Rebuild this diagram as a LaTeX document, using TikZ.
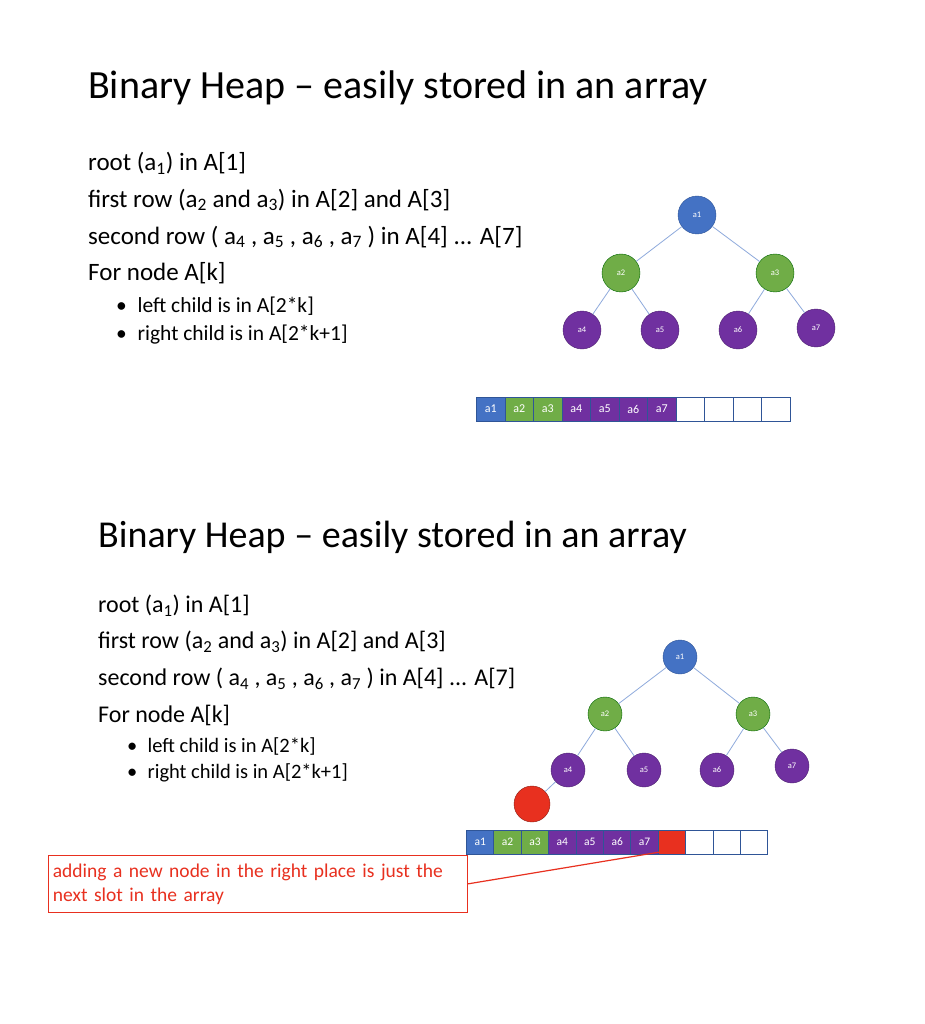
\documentclass[tikz,border=0pt]{standalone}
\usetikzlibrary{arrows.meta}
\usepackage{fontspec}
\setmainfont{Carlito}
\definecolor{hblue}{HTML}{4472C4}
\definecolor{hgreen}{HTML}{70AD47}
\definecolor{hpurple}{HTML}{7030A0}
\definecolor{hred}{HTML}{E8301F}
\definecolor{hedge}{HTML}{8FAADC}
\definecolor{hframe}{HTML}{2F5597}
\begin{document}
\begin{tikzpicture}[x=1pt,y=-1pt,
  hn/.style={circle,minimum size=#1,inner sep=0pt,text=white,font=\fontsize{8.5}{9}\selectfont},
  nb/.style={fill=hblue,draw=hframe},
  ng/.style={fill=hgreen,draw=green!40!black},
  np/.style={fill=hpurple,draw=hpurple!70!black},
  ed/.style={draw=hedge,line width=0.8pt},
  cell/.style={draw=hframe,line width=1pt,minimum width=#1,minimum height=24pt,inner sep=0pt,text=white,anchor=west,font=\fontsize{12}{14}\selectfont},
  tl/.style={anchor=west,inner sep=0pt,font=\fontsize{#1}{#1}\selectfont}]
\useasboundingbox (0,0) rectangle (925,1024);
\fill[white] (0,0) rectangle (925,1024);
% ---------- top panel
\node[tl=40] (t1) at (88,88) {Binary Heap -- easily stored in an array};
\node[tl=25] (l1) at (88,163) {root (a\textsubscript{1}) in A[1]};
\node[tl=25] (l2) at (88,200) {first row (a\textsubscript{2} and a\textsubscript{3}) in A[2] and A[3]};
\node[tl=25] (l3) at (88,237) {second row ( a\textsubscript{4} , a\textsubscript{5} , a\textsubscript{6} , a\textsubscript{7} ) in A[4] ... A[7]};
\node[tl=25] (l4) at (88,273) {For node A[k]};
\node[tl=21.5] (b1) at (116,306) {\textbullet\enspace left child is in A[2*k]};
\node[tl=21.5] (b2) at (116,335) {\textbullet\enspace right child is in A[2*k+1]};
\node[hn=38pt,nb] (A1) at (697,215) {a1};
\node[hn=38pt,ng] (A2) at (621,273) {a2};
\node[hn=38pt,ng] (A3) at (775,273) {a3};
\node[hn=38pt,np] (A4) at (582,330) {a4};
\node[hn=38pt,np] (A5) at (660,330) {a5};
\node[hn=38pt,np] (A6) at (738,330) {a6};
\node[hn=38pt,np] (A7) at (816,328) {a7};
\draw[ed] (A1)--(A2) (A1)--(A3) (A2)--(A4) (A2)--(A5) (A3)--(A6) (A3)--(A7);
\foreach \i/\c/\t in {0/hblue/a1,1/hgreen/a2,2/hgreen/a3,3/hpurple/a4,4/hpurple/a5,5/hpurple/a6,6/hpurple/a7,7/white/,8/white/,9/white/,10/white/}
  \node[cell=28.5pt,fill=\c] (T\i) at (476+28.5*\i,409) {\t};
% ---------- bottom panel
\node[tl=38] (t2) at (98,537) {Binary Heap -- easily stored in an array};
\node[tl=24] (m1) at (98,606) {root (a\textsubscript{1}) in A[1]};
\node[tl=24] (m2) at (98,642) {first row (a\textsubscript{2} and a\textsubscript{3}) in A[2] and A[3]};
\node[tl=24] (m3) at (98,679) {second row ( a\textsubscript{4} , a\textsubscript{5} , a\textsubscript{6} , a\textsubscript{7} ) in A[4] ... A[7]};
\node[tl=24] (m4) at (98,715) {For node A[k]};
\node[tl=20.5] (c1) at (127,746) {\textbullet\enspace left child is in A[2*k]};
\node[tl=20.5] (c2) at (127,773) {\textbullet\enspace right child is in A[2*k+1]};
\node[hn=34pt,nb] (B1) at (680,657) {a1};
\node[hn=34pt,ng] (B2) at (605,714) {a2};
\node[hn=34pt,ng] (B3) at (753,714) {a3};
\node[hn=34pt,np] (B4) at (568,770) {a4};
\node[hn=34pt,np] (B5) at (644,770) {a5};
\node[hn=34pt,np] (B6) at (717,770) {a6};
\node[hn=34pt,np] (B7) at (792,766) {a7};
\node[hn=36pt,fill=hred,draw=hred!60!black] (B8) at (532,804) {};
\draw[ed] (B1)--(B2) (B1)--(B3) (B2)--(B4) (B2)--(B5) (B3)--(B6) (B3)--(B7) (B4)--(B8);
\foreach \i/\c/\t in {0/hblue/a1,1/hgreen/a2,2/hgreen/a3,3/hpurple/a4,4/hpurple/a5,5/hpurple/a6,6/hpurple/a7,7/hred/,8/white/,9/white/,10/white/}
  \node[cell=27.4pt,fill=\c,minimum height=24pt,font=\fontsize{11.5}{13}\selectfont] (S\i) at (466+27.4*\i,842) {\t};
\node[draw=hred,line width=0.8pt,anchor=north west,minimum width=419pt,minimum height=57pt,text width=410pt,align=left,text=hred,font=\fontsize{19.5}{24}\selectfont,inner xsep=4pt] (note) at (48,855) {adding a new node in the right place is just the\\next slot in the array};
\draw[hred,line width=1.2pt,-{Stealth[length=5pt,width=5pt]}] (note.east) -- ([xshift=-3pt,yshift=4pt]S7.south);
\end{tikzpicture}
\end{document}
